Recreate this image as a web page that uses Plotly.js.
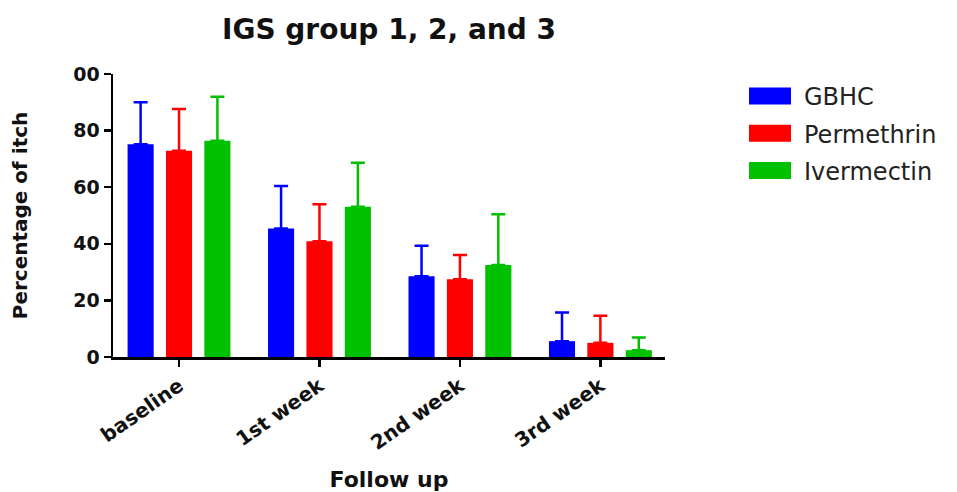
<!DOCTYPE html>
<html>
<head>
<meta charset="utf-8">
<script src="https://cdn.plot.ly/plotly-3.0.1.min.js"></script>
<style>html,body{margin:0;padding:0;background:#fff}#chart{width:957px;height:492px}</style>
</head>
<body>
<div id="chart"></div>
<script>
var categories = ['baseline', '1st week', '2nd week', '3rd week'];
var gbhc = [75.2, 45.4, 28.5, 5.6];
var gbhcErr = [14.8, 15.0, 10.8, 10.1];
var permethrin = [72.9, 40.9, 27.5, 5.0];
var permethrinErr = [14.7, 13.1, 8.5, 9.6];
var ivermectin = [76.4, 53.1, 32.5, 2.4];
var ivermectinErr = [15.6, 15.5, 17.9, 4.5];
var yTickVals = [0, 20, 40, 60, 80, 100];
var yTickText = ['0', '20', '40', '60', '80', '00'];

function mk(name, y, err, color) {
  return {
    type: 'bar', name: name, legendgroup: name, x: categories, y: y,
    marker: {color: color, line: {width: 0}},
    error_y: {type: 'data', symmetric: false, array: err, arrayminus: y.map(function(){return 0;}),
              color: color, thickness: 2.5, width: 7}
  };
}
var data = [
  mk('GBHC', gbhc, gbhcErr, '#0000ff'),
  mk('Permethrin', permethrin, permethrinErr, '#ff0000'),
  mk('Ivermectin', ivermectin, ivermectinErr, '#00c000')
];
var F = 'DejaVu Sans, Liberation Sans, Arial, sans-serif';
var layout = {
  width: 957, height: 492,
  margin: {l: 113, r: 292, t: 74, b: 135},
  paper_bgcolor: '#fff', plot_bgcolor: '#fff',
  barmode: 'group', bargap: 0.18, bargroupgap: 0.32,
  showlegend: true,
  title: {text: '<b>IGS group 1, 2, and 3</b>', x: 0.5, xref: 'paper', xanchor: 'center', y: 0.94, yanchor: 'middle',
          font: {family: F, size: 28, color: '#111'}},
  xaxis: {
    range: [-0.47, 3.46], showline: true, linecolor: '#000', linewidth: 2.5,
    ticks: 'outside', ticklen: 7, tickwidth: 2.5, tickcolor: '#000',
    tickangle: -35, showgrid: false, zeroline: false,
    tickfont: {family: F, size: 20, color: '#111', weight: 'bold'},
    title: {text: '<b>Follow up</b>', standoff: 20, font: {family: F, size: 22, color: '#111'}}
  },
  yaxis: {
    range: [0, 100], showline: true, linecolor: '#000', linewidth: 2.5,
    ticks: 'outside', ticklen: 7, tickwidth: 2.5, tickcolor: '#000',
    tickvals: yTickVals, ticktext: yTickText, showgrid: false, zeroline: false,
    tickfont: {family: F, size: 19, color: '#111', weight: 'bold'},
    title: {text: '<b>Percentage of itch</b>', standoff: 40, font: {family: F, size: 20, color: '#111'}}
  },
  legend: {x: 1.125, y: 1.0, xanchor: 'left', yanchor: 'top', traceorder: 'grouped', tracegroupgap: 3,
           itemwidth: 60,
           font: {family: F, size: 24, color: '#222'}}
};
Plotly.newPlot('chart', data, layout, {displayModeBar: false, staticPlot: true}).then(function(gd){
  var pts = gd.querySelectorAll('.legend .legendpoints path');
  pts.forEach(function(p){ p.setAttribute('d', 'M22,8.5H-20V-8.5H22Z'); });
});
</script>
</body>
</html>
